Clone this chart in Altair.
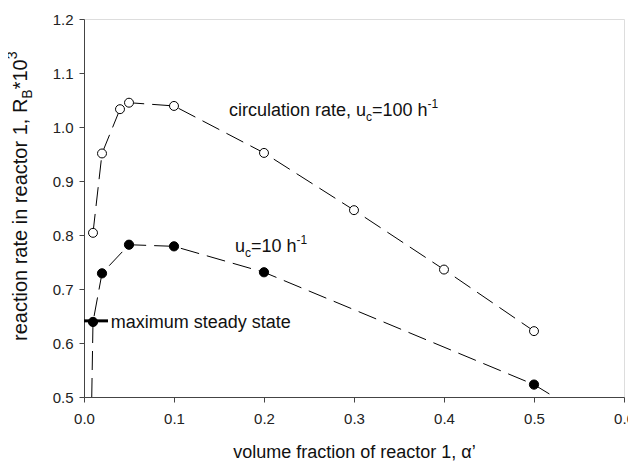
import altair as alt
import pandas as pd

FONT = "Liberation Sans"

# ---- data ----
alpha_100 = [0.01, 0.02, 0.04, 0.05, 0.1, 0.2, 0.3, 0.4, 0.5]
rate_100 = [0.804, 0.951, 1.033, 1.045, 1.039, 0.952, 0.846, 0.736, 0.622]

alpha_10 = [0.01, 0.02, 0.05, 0.1, 0.2, 0.5]
rate_10 = [0.639, 0.729, 0.782, 0.779, 0.731, 0.523]

# the u_c=10 dashed curve continues down to the lower axis at both ends
alpha_10_line = [0.0086] + alpha_10 + [0.5226]
rate_10_line = [0.5] + rate_10 + [0.5]

max_ss_alpha = [0.0, 0.0267]
max_ss_rate = [0.641, 0.641]

x_ticks = [0.0, 0.1, 0.2, 0.3, 0.4, 0.5, 0.6]
y_ticks = [0.5, 0.6, 0.7, 0.8, 0.9, 1.0, 1.1, 1.2]

# ---- helpers ----
W = {" ": 278, "a": 556, "b": 556, "c": 500, "d": 556, "e": 556, "f": 278,
     "h": 556, "i": 222, "l": 222, "m": 833, "n": 556, "o": 556, "r": 333,
     "s": 500, "t": 278, "u": 556, "v": 500, "x": 500, "y": 500, ",": 278,
     "1": 556, "0": 556, "R": 722, "B": 667, "*": 389, "=": 584, "-": 333,
     "3": 556}


def tw(s, size):
    return sum(W.get(ch, 556) for ch in s) / 1000.0 * size


xs = alt.Scale(domain=[0, 0.6], nice=False, zero=False)
ys = alt.Scale(domain=[0.5, 1.2], nice=False, zero=False)

xaxis = alt.Axis(values=x_ticks, format=".1f", title="volume fraction of reactor 1, α’",
                 titleFontSize=18, titleFont=FONT, titleFontWeight="normal",
                 titleColor="#111", titlePadding=17,
                 labelFontSize=15, labelFont=FONT, labelColor="#222",
                 labelPadding=9, labelFlush=False, tickSize=5, grid=False,
                 domainColor="#444", tickColor="#444")
yaxis = alt.Axis(values=y_ticks, format=".1f", title=None,
                 labelFontSize=15, labelFont=FONT, labelColor="#222",
                 labelPadding=6, labelFlush=False, tickSize=5, grid=False,
                 domainColor="#444", tickColor="#444")


def X(field="x"):
    return alt.X(f"{field}:Q", scale=xs, axis=xaxis)


def Y(field="y"):
    return alt.Y(f"{field}:Q", scale=ys, axis=yaxis)


df100 = pd.DataFrame({"x": alpha_100, "y": rate_100})
df10 = pd.DataFrame({"x": alpha_10, "y": rate_10})
df10l = pd.DataFrame({"x": alpha_10_line, "y": rate_10_line,
                      "o": list(range(len(alpha_10_line)))})
dfmax = pd.DataFrame({"x": [max_ss_alpha[0]], "x2": [max_ss_alpha[1]],
                      "y": [max_ss_rate[0]]})

DASH = [19, 8]

line100 = alt.Chart(df100).mark_line(color="black", strokeWidth=1,
                                     strokeDash=DASH).encode(x=X(), y=Y())
line10 = alt.Chart(df10l).mark_line(color="black", strokeWidth=1,
                                    strokeDash=DASH).encode(
    x=X(), y=Y(), order="o:Q")
pts100 = alt.Chart(df100).mark_point(shape="circle", filled=True, fill="white",
                                     stroke="black", strokeWidth=1, size=80,
                                     opacity=1).encode(x=X(), y=Y())
pts10 = alt.Chart(df10).mark_point(shape="circle", filled=True, fill="black",
                                   stroke="black", strokeWidth=1, size=85,
                                   opacity=1).encode(x=X(), y=Y())
maxrule = alt.Chart(dfmax).mark_rule(color="black", strokeWidth=3).encode(
    x=X(), x2="x2:Q", y=Y())

ANN = 18
SUB = 12


def piece(text, x, y, dx, dy, size):
    d = pd.DataFrame({"x": [x], "y": [y], "t": [text]})
    return alt.Chart(d).mark_text(align="left", baseline="alphabetic", dx=dx,
                                  dy=dy, fontSize=size, font=FONT,
                                  color="#111").encode(x=X(), y=Y(), text="t:N")


def label(parts, x, y):
    """parts: list of (text, kind) where kind in 'n','sub','sup'"""
    layers = []
    off = 0.0
    for txt, kind in parts:
        if kind == "n":
            size, dy = ANN, 0
        elif kind == "sub":
            size, dy = SUB, 5
        else:
            size, dy = SUB, -8
        layers.append(piece(txt, x, y, off, dy, size))
        off += tw(txt, size)
    return layers


ann = []
ann += label([("circulation rate, u", "n"), ("c", "sub"), ("=100 h", "n"),
              ("-1", "sup")], 0.161, 1.021)
ann += label([("u", "n"), ("c", "sub"), ("=10 h", "n"), ("-1", "sup")],
             0.1678, 0.7685)
ann += label([("maximum steady state", "n")], 0.0297, 0.628)

# rotated y-axis title built from pieces (subscript/superscript)
YT = 20
YS = 14
one = pd.DataFrame({"a": [0]})
ytitle_parts = [("reaction rate in reactor 1, R", "n"), ("B", "sub"),
                ("*10", "n"), ("3", "sup")]
ytl = []
start_y = 341 - 19
off = 0.0
for txt, kind in ytitle_parts:
    if kind == "n":
        size, dy = YT, 0
    elif kind == "sub":
        size, dy = YS, 5
    else:
        size, dy = YS, -10
    ytl.append(alt.Chart(one).mark_text(text=txt, align="left",
                                        baseline="alphabetic", angle=270,
                                        dx=off, dy=dy, fontSize=size,
                                        font=FONT, color="#111").encode(
        x=alt.value(-57), y=alt.value(start_y)))
    off += tw(txt, size)

chart = alt.layer(line100, line10, maxrule, pts100, pts10, *ann, *ytl).properties(
    width=540, height=378,
    padding={"left": 76, "top": 11, "right": 4, "bottom": 66},
    autosize="none",
).configure_view(stroke="#444", strokeWidth=1).configure(background="white")

chart.save("out.html", embed_options={"renderer": "svg", "actions": False})
